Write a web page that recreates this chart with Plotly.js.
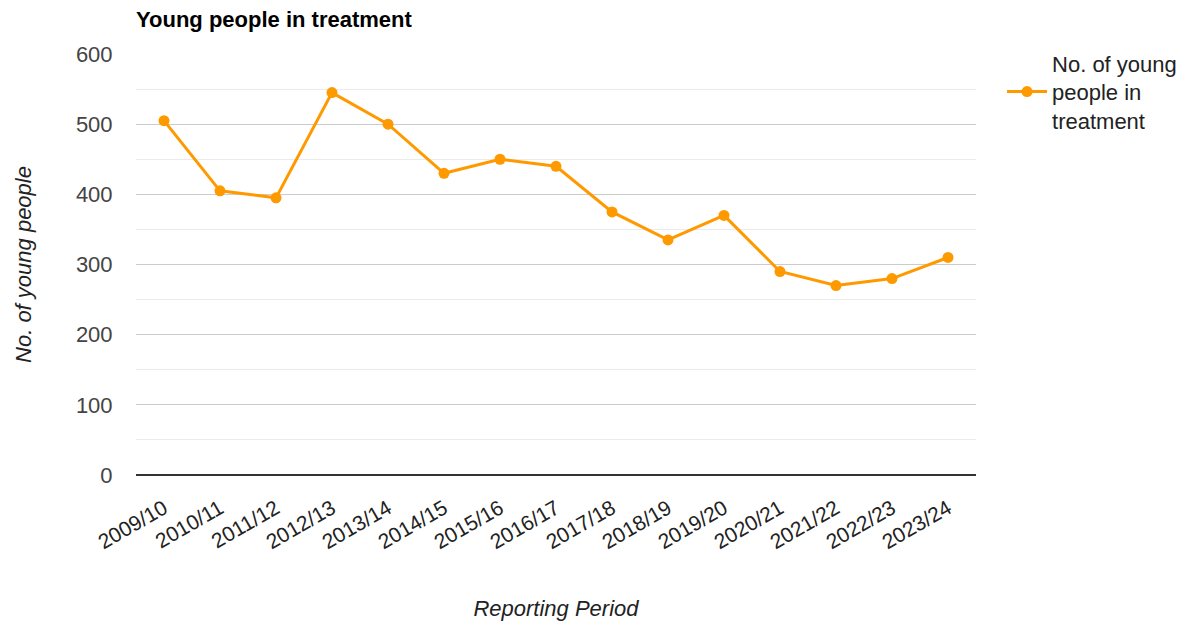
<!DOCTYPE html>
<html>
<head>
<meta charset="utf-8">
<script src="https://cdn.plot.ly/plotly-3.0.1.min.js"></script>
<style>html,body{margin:0;padding:0;background:#fff;}#chart{width:1190px;height:623px;}</style>
</head>
<body>
<div id="chart"></div>
<script>
const periods = ["2009/10","2010/11","2011/12","2012/13","2013/14","2014/15","2015/16","2016/17","2017/18","2018/19","2019/20","2020/21","2021/22","2022/23","2023/24"];
const youngPeople = [505,405,395,545,500,430,450,440,375,335,370,290,270,280,310];
const seriesName = "No. of young<br>people in<br>treatment";
const yTicks = [0,100,200,300,400,500,600];

const FONT = "Liberation Sans, Arial, sans-serif";
const trace = {
  x: periods, y: youngPeople, type: "scatter", mode: "lines+markers",
  name: seriesName,
  line: {color: "#ff9900", width: 3},
  marker: {color: "#ff9900", size: 11}
};
const layout = {
  width: 1190, height: 623,
  margin: {l: 136, r: 214, t: 54, b: 148, autoexpand: false},
  paper_bgcolor: "#fff", plot_bgcolor: "#fff",
  font: {family: FONT, color: "#444"},
  title: {text: "Young people in treatment", x: 136/1190, xref: "container", xanchor: "left",
          y: 1 - 19/623, yanchor: "middle", yref: "container",
          font: {family: FONT, size: 22, weight: "bold", color: "#000"}},
  xaxis: {
    type: "category", range: [-0.5, 14.5], tickangle: -30,
    tickfont: {size: 21, color: "#222"}, showgrid: false, zeroline: false,
    ticks: "outside", ticklen: 12, tickcolor: "rgba(0,0,0,0)",
    showline: false, automargin: false,
    title: {text: "Reporting Period", font: {size: 22, color: "#222", style: "italic"}, standoff: 48}
  },
  yaxis: {
    range: [0, 600], tickvals: yTicks, ticktext: yTicks.map(String),
    tickfont: {size: 22, color: "#444"},
    gridcolor: "#cccccc", gridwidth: 1,
    minor: {dtick: 50, showgrid: true, gridcolor: "#ebebeb", gridwidth: 1},
    zeroline: true, zerolinecolor: "#333", zerolinewidth: 2,
    ticks: "outside", ticklen: 18, tickcolor: "rgba(0,0,0,0)", automargin: false,
    title: {text: "No. of young people", font: {size: 22, color: "#222", style: "italic"}, standoff: 38}
  },
  showlegend: true,
  legend: {x: 1.031, xanchor: "left", y: 1.028, yanchor: "top",
           font: {size: 22, color: "#222"}, bgcolor: "rgba(0,0,0,0)", itemwidth: 40}
};
Plotly.newPlot("chart", [trace], layout, {displayModeBar: false, staticPlot: true});
</script>
</body>
</html>
